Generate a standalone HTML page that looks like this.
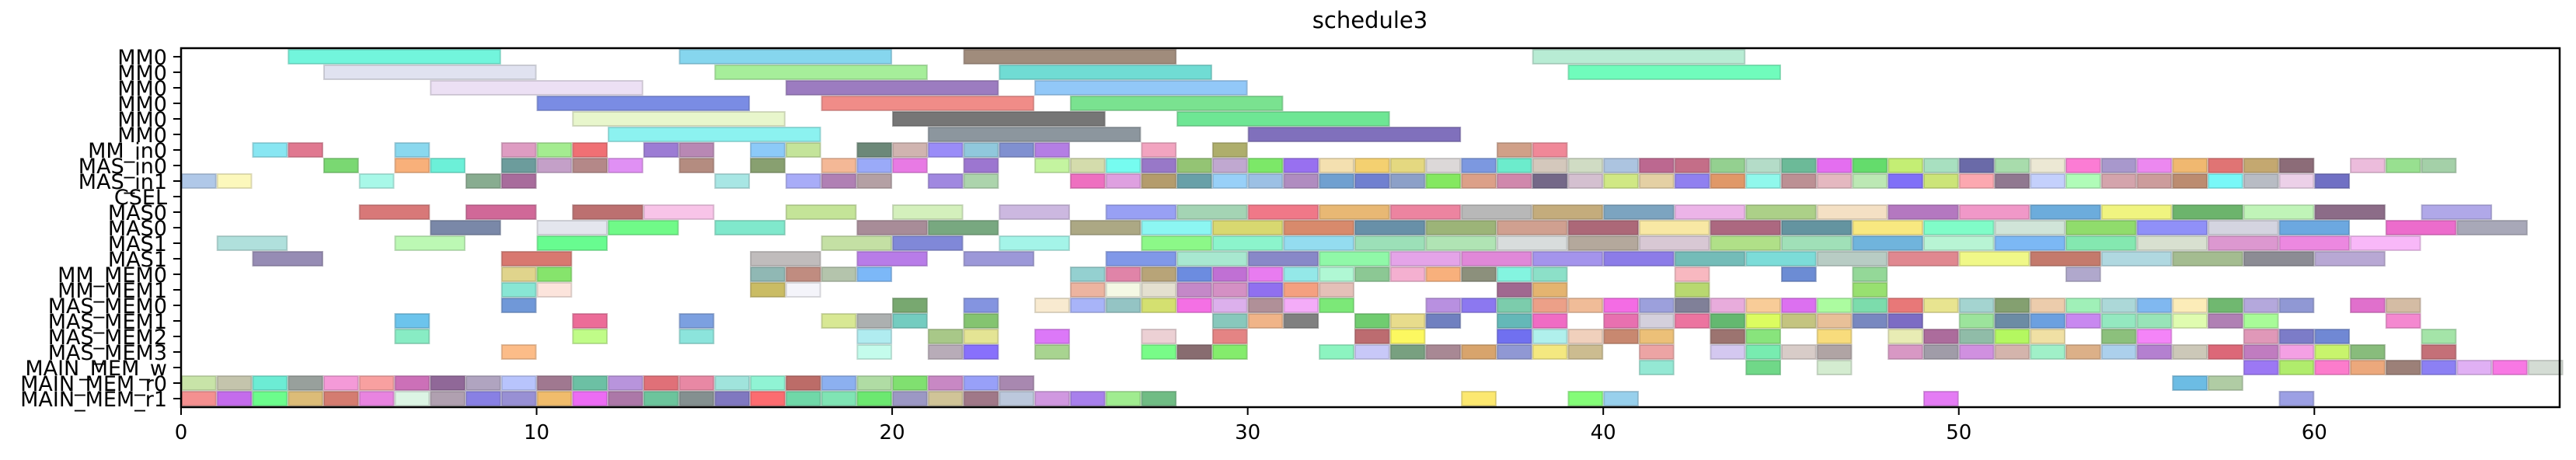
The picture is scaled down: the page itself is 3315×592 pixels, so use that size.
<!DOCTYPE html>
<html><head><meta charset="utf-8"><style>
html,body{margin:0;padding:0;background:#fff;}
svg{display:block;font-family:"DejaVu Sans","Liberation Sans",sans-serif;}
</style></head>
<body>
<svg id="chart" width="3315" height="592" viewBox="0 0 3315 592" xmlns="http://www.w3.org/2000/svg">
<text x="1763" y="36" font-size="29" text-anchor="middle">schedule3</text>
<g id="bars"></g>
<g id="yaxis"></g>
<g id="xaxis"></g>
<rect x="233" y="62" width="3061" height="462" fill="none" stroke="#000" stroke-width="2.5"/>
</svg>
<script>
const rowLabels = ["MM0","MM0","MM0","MM0","MM0","MM0","MM_in0","MAS_in0","MAS_in1","CSEL","MAS0","MAS0","MAS1","MAS1","MM_MEM0","MM_MEM1","MAS_MEM0","MAS_MEM1","MAS_MEM2","MAS_MEM3","MAIN_MEM_w","MAIN_MEM_r0","MAIN_MEM_r1"];
const xTicks = [0,10,20,30,40,50,60];
const taskDuration = [6,6,6,6,6,6,1,1,1,1,2,2,2,2,1,1,1,1,1,1,1,1,1];
const taskStarts = [
[3,14,22,38],
[4,15,23,39],
[7,17,24],
[10,18,25],
[11,20,28],
[12,21,30],
[2,3,6,9,10,11,13,14,16,17,19,20,21,22,23,24,27,29,37,38],
[4,6,7,9,10,11,12,14,16,18,19,20,22,24,25,26,27,28,29,30,31,32,33,34,35,36,37,38,39,40,41,42,43,44,45,46,47,48,49,50,51,52,53,54,55,56,57,58,59,61,62,63],
[0,1,5,8,9,15,17,18,19,21,22,25,26,27,28,29,30,31,32,33,34,35,36,37,38,39,40,41,42,43,44,45,46,47,48,49,50,51,52,53,54,55,56,57,58,59,60],
[],
[5,8,11,13,17,20,23,26,28,30,32,34,36,38,40,42,44,46,48,50,52,54,56,58,60,63],
[7,10,12,15,19,21,25,27,29,31,33,35,37,39,41,43,45,47,49,51,53,55,57,59,62,64],
[1,6,10,18,20,23,27,29,31,33,35,37,39,41,43,45,47,49,51,53,55,57,59,61],
[2,9,16,19,22,26,28,30,32,34,36,38,40,42,44,46,48,50,52,54,56,58,60],
[9,10,16,17,18,19,25,26,27,28,29,30,31,32,33,34,35,36,37,38,42,45,47,53],
[9,10,16,17,25,26,27,28,29,30,31,32,37,38,42,47],
[9,20,22,24,25,26,27,28,29,30,31,32,35,36,37,38,39,40,41,42,43,44,45,46,47,48,49,50,51,52,53,54,55,56,57,58,59,61,62],
[6,11,14,18,19,20,22,29,30,31,33,34,35,37,38,40,41,42,43,44,45,46,47,48,50,51,52,53,54,55,56,57,58,62],
[6,11,14,19,21,22,24,27,29,33,34,37,38,39,40,41,43,44,46,48,49,50,51,52,54,55,58,59,60,63],
[9,19,21,22,24,27,28,29,32,33,34,35,36,37,38,39,41,43,44,45,46,48,49,50,51,52,53,54,55,56,57,58,59,60,61,63],
[41,44,46,58,59,60,61,62,63,64,65,66],
[0,1,2,3,4,5,6,7,8,9,10,11,12,13,14,15,16,17,18,19,20,21,22,23,56,57],
[0,1,2,3,4,5,6,7,8,9,10,11,12,13,14,15,16,17,18,19,20,21,22,23,24,25,26,27,36,39,40,49,59]
];
const taskColors = [
["#72f5dc","#86d6ee","#a08c7c","#b8ecd4"],
["#e0e2f0","#a6ee9a","#70dcd4","#70fcbc"],
["#ece0f4","#9c7cc0","#92c8f8"],
["#7a8ce4","#f08c88","#7ae290"],
["#e8f6cc","#767676","#6ee694"],
["#8cf2f0","#8c969e","#8070bc"],
["#88e6f2","#e07890","#8ad8ee","#de9cc2","#a4ec90","#f07074","#9c7cd4","#b888b4","#8ccaf8","#c4e49a","#6c8878","#d0b4b0","#9a8cf8","#90c8dc","#8090d0","#b47ee4","#f2a4c0","#aeae6c","#d0a088","#f08898"],
["#7ad872","#f8b07a","#6cf0d8","#6c9c9c","#c4a0c8","#b48888","#e090f4","#b48c80","#88a070","#f4b896","#9aaaf8","#e87ae4","#9c76d0","#c4f4a0","#d4dcac","#76fcf0","#9878c8","#94c474","#c0a8d0","#7ce868","#9870f0","#f4e0b0","#f4d070","#e4d880","#dcd8d8","#7c98e0","#6ceccc","#d4c8bc","#d0dcc4","#acc4e0","#bc6890","#c46e88","#94d090","#b4dcc8","#6cba98","#e46ef0","#64dc6c","#c4ee74","#a8e0c0","#6a6aa8","#a8dcac","#ece8d4","#fc7cd4","#a898cc","#ec88f0","#f0b870","#e07474","#c4a870","#8c6c78","#ecbcdc","#98e090","#a4d0a8"],
["#b0c8e8","#fcf8bc","#a8f8e8","#88ac90","#a86c9c","#a8e6e4","#a8acf8","#b080b4","#b4a0a4","#a088e0","#acd4ac","#ee70c0","#dea0e0","#b49c6c","#68a0a8","#98d0f8","#9cc0e4","#b08cc0","#70a0d0","#7080d0","#8ca0c8","#84e860","#dca088","#d088ac","#746888","#d4c0d0","#d0e884","#e4d0a4","#9080f0","#e09868","#90f8ec","#bc9094","#e4b8c0","#bce8b4","#8070f8","#cce478","#fca8b0","#907890","#c4d0fc","#b0fcb8","#d4a4ac","#cc9c9c","#bc8c70","#78f8f8","#b8bcc4","#ecd0e8","#7070c4"],
[],
["#d87878","#d06898","#bc7070","#f8c4e8","#c4e498","#d4f0bc","#ccb8e0","#98a0f4","#a4d4b4","#f07888","#e8b874","#ec84a0","#b8b8b8","#c4ac7c","#7ca4c0","#ecb4e8","#acd088","#f4e0c4","#b478c0","#f098c8","#6cacdc","#f0f480","#6cb46c","#c0f4b8","#8c6c88","#b0a8e8"],
["#7a88a8","#e4e6ee","#70fa88","#80e8cc","#a88c98","#78a880","#aca884","#8cf6f2","#d8d870","#d88a6c","#6890a8","#9cb478","#d0a090","#ac6878","#f8e8a4","#ac6880","#6494a0","#f8e880","#80fcc8","#d0e4d8","#90dc6c","#9090f8","#d4d4e0","#6ca8e0","#ec6ccc","#a8a8b8"],
["#b0e0dc","#bcf8b4","#68fc90","#c4e0a4","#8088d8","#a4f4e8","#8cf888","#8cf4cc","#94dcf0","#9ce0b8","#b0e4b4","#d8dcdc","#b4a89c","#d8c8d4","#b0e088","#a0e0b8","#70b4dc","#b8f4d4","#7cb8f4","#84e8b0","#d8e0d0","#dc98d0","#ec88e0","#f8b8f8"],
["#968cb4","#d87870","#c0bcbc","#b87ce8","#9c98d8","#8098e8","#a8e8d0","#8888c8","#90f8a8","#e4a4e8","#e088d8","#a494ec","#8c7ce8","#74bcb8","#7cdcd8","#b8ccc4","#e08890","#f0f888","#c47a6c","#b0d8e0","#a4bc90","#8c8c94","#b8a8d4"],
["#e0d48c","#86e46c","#90b8b4","#c08c80","#b4c4ac","#7cb8f8","#94d0d0","#e084a8","#b8a478","#6c8ce0","#c070d4","#e87cf0","#94e8e8","#b0f8d4","#8cc894","#f4b0d0","#f8b07c","#8c907c","#84f4e0","#8ce0c8","#f8b8c0","#6c8cd4","#94d898","#b0a8cc"],
["#88e6d4","#fce4dc","#cabc64","#f4f4fa","#ecb4a0","#f4f8e4","#e4e0d0","#c488c8","#d490c4","#9070f0","#f4a080","#e4c0b8","#a06890","#e4b470","#b8d870","#98e070"],
["#7098d8","#78a870","#8494e0","#f8ead0","#a8b4f8","#94c4c4","#d4e070","#f470e4","#dcb0ec","#b09098","#f4acf8","#7ce878","#b890e0","#8c78f0","#7cccac","#eca088","#f0bc98","#f46ce4","#9ca0dc","#808098","#e8acdc","#f8cc98","#dc70f0","#acfca0","#7cdcac","#e87878","#e8e490","#a4d4d0","#84a070","#ecccac","#a0f0b8","#acd8d8","#80b8f0","#fcecb8","#70b870","#b4a8dc","#9098d4","#e070cc","#d4bca4"],
["#6cc4ec","#ec6c98","#7ca0e0","#d8e894","#acb0b0","#74ccc0","#84c470","#88c8bc","#f0b488","#808080","#70cc70","#e8dc8c","#7080c0","#64b8b8","#f06cc4","#e870b0","#d4d0dc","#ec74a0","#64b870","#dcfc60","#c4c480","#e8c098","#7888c0","#7c6cc4","#9ce49c","#6c8ca4","#6ca0e0","#c888f0","#94e8c0","#98e4b8","#e0fcb0","#b080b4","#a8fc98","#f488d0"],
["#88ecc4","#c0fc88","#8ce4dc","#b0ecf0","#a8c888","#e4e494","#dc78f8","#ecd0d4","#e48484","#bc6c70","#fcf860","#7070f0","#b0f0ec","#f0d0bc","#c88870","#ecc078","#9c7470","#88e47c","#f8dc7c","#e8ecb4","#ac6c9c","#90bca8","#b4f860","#f0e0a4","#8cc07c","#f484f8","#e098b8","#7c7cc8","#7088d4","#a4e4a8"],
["#fcbc88","#c4fcec","#b8acb8","#8870fc","#a8d490","#78fc88","#886c70","#84ec6c","#8cf4c0","#c8c8f8","#78a080","#a88894","#d8a46c","#9098d4","#f4e880","#ccbc90","#eca4a4","#d4c8f0","#78ecb0","#d8ccc8","#b0a4a4","#d898c4","#a09ca8","#d090e0","#d4b4ac","#a0f0c8","#dcb088","#acd0ec","#b480d0","#ccc8b8","#dc6878","#c07cc0","#f4a0e4","#c8f46c","#88bc7c","#c47078"],
["#94e8d4","#70d888","#d4ecd0","#9c78f4","#b0ec6c","#fc7ccc","#eca87c","#9c8078","#8c80f4","#e0b0f4","#f878e4","#d4dcd4"],
["#c8e4a8","#c4c4ac","#6cecd4","#98a09c","#f49ad8","#f8a0a0","#cc70b8","#906898","#b0a4c0","#b8c4fc","#a07890","#6cc0a4","#b894dc","#e07078","#e888a4","#a0e4dc","#90f4d4","#bc6c68","#8cb0f0","#b0dca4","#80e070","#c888c4","#98a0f8","#a888b0","#6cbce4","#b0cca4"],
["#f49090","#c46cec","#6cfc8c","#dcbc78","#d47c70","#e884e0","#dcf4e4","#b0a0b0","#8880e4","#9890d4","#f0bc6c","#ec6cf4","#ac78a8","#6cc49c","#849090","#8078c0","#fc6c70","#70d8a8","#80e4b4","#6ce870","#9c98c4","#d0c498","#a07888","#bcc8dc","#d098e0","#a880ec","#a0ec90","#70bc84","#fce870","#84fc78","#98d0ec","#e47cf4","#9ca0e4"]
];

const NS = "http://www.w3.org/2000/svg";
const plotL = 233, plotR = 3294, plotT = 62, plotB = 524;
const xMin = 0, xMax = 66.9;
const yMin = -0.55, yMax = rowLabels.length - 0.45;
function xScale(v){ return plotL + (v - xMin) / (xMax - xMin) * (plotR - plotL); }
function yScale(r){ return plotT + (r - yMin) / (yMax - yMin) * (plotB - plotT); }
function darken(hex){
  const n = parseInt(hex.slice(1),16);
  const r = Math.round(((n>>16)&255)*0.78), g = Math.round(((n>>8)&255)*0.78), b = Math.round((n&255)*0.78);
  return "rgb("+r+","+g+","+b+")";
}
const bars = document.getElementById("bars");
const rowH = yScale(1) - yScale(0);
taskStarts.forEach((starts, r) => {
  starts.forEach((s, i) => {
    const rect = document.createElementNS(NS, "rect");
    const x0 = xScale(s), x1 = xScale(s + taskDuration[r]);
    rect.setAttribute("x", x0 + 1);
    rect.setAttribute("y", yScale(r) - rowH / 2 + 1);
    rect.setAttribute("width", x1 - x0 - 2);
    rect.setAttribute("height", rowH - 2);
    rect.setAttribute("fill", taskColors[r][i]);
    rect.setAttribute("stroke", darken(taskColors[r][i]));
    rect.setAttribute("stroke-opacity", "0.6");
    rect.setAttribute("stroke-width", "2");
    
    
    bars.appendChild(rect);
  });
});
const yaxis = document.getElementById("yaxis");
rowLabels.forEach((lab, r) => {
  const y = yScale(r);
  const t = document.createElementNS(NS, "line");
  t.setAttribute("x1", plotL - 10); t.setAttribute("x2", plotL);
  t.setAttribute("y1", y); t.setAttribute("y2", y);
  t.setAttribute("stroke", "#000"); t.setAttribute("stroke-width", "2");
  
  
  yaxis.appendChild(t);
  const tx = document.createElementNS(NS, "text");
  tx.setAttribute("x", plotL - 18); tx.setAttribute("y", y + 10);
  tx.setAttribute("font-size", "27"); tx.setAttribute("text-anchor", "end");
  tx.textContent = lab;
  
  
  yaxis.appendChild(tx);
});
const xaxis = document.getElementById("xaxis");
xTicks.forEach(v => {
  const x = xScale(v);
  const t = document.createElementNS(NS, "line");
  t.setAttribute("x1", x); t.setAttribute("x2", x);
  t.setAttribute("y1", plotB); t.setAttribute("y2", plotB + 10);
  t.setAttribute("stroke", "#000"); t.setAttribute("stroke-width", "2");
  
  
  xaxis.appendChild(t);
  const tx = document.createElementNS(NS, "text");
  tx.setAttribute("x", x); tx.setAttribute("y", plotB + 41);
  tx.setAttribute("font-size", "26"); tx.setAttribute("text-anchor", "middle");
  tx.textContent = v;
  
  
  xaxis.appendChild(tx);
});
</script>
</body></html>
